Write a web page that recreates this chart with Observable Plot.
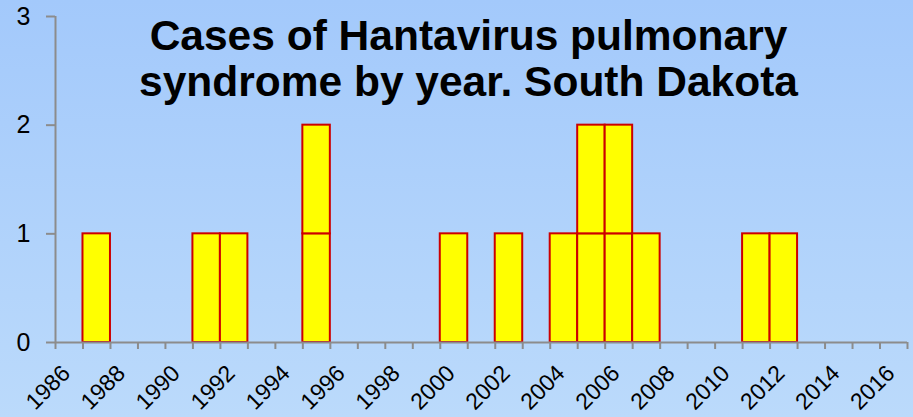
<!DOCTYPE html>
<html>
<head>
<meta charset="utf-8">
<script src="https://cdn.jsdelivr.net/npm/d3@7"></script>
<script src="https://cdn.jsdelivr.net/npm/@observablehq/plot@0.6"></script>
<style>
  html, body { margin: 0; padding: 0; background: #b0d2fb; }
  #chart svg { display: block; }
</style>
</head>
<body>
<div id="chart"></div>
<script>
// Data
const years = [1987, 1991, 1992, 1995, 2000, 2002, 2004, 2005, 2006, 2007, 2011, 2012];
const cases = [1, 1, 1, 2, 1, 1, 1, 2, 2, 1, 1, 1];
const firstYear = 1986;
const lastYear = 2016;
const xLabelYears = [1986, 1988, 1990, 1992, 1994, 1996, 1998, 2000, 2002, 2004, 2006, 2008, 2010, 2012, 2014, 2016];
const yTicks = [0, 1, 2, 3];
const titleLines = ["Cases of Hantavirus pulmonary", "syndrome by year. South Dakota"];

// one box per case, stacked
const boxes = years.flatMap((yr, i) =>
  d3.range(cases[i]).map(k => ({year: yr, lo: k, hi: k + 1}))
);
const tickYears = d3.range(firstYear, lastYear + 2);

const chart = Plot.plot({
  width: 913,
  height: 417,
  marginLeft: 55,
  marginRight: 6,
  marginTop: 16,
  marginBottom: 75,
  style: {
    background: "linear-gradient(#a3c9fb, #bbdafb)",
    fontFamily: "'Liberation Sans', Arial, sans-serif",
    color: "black",
    overflow: "visible"
  },
  x: {domain: [firstYear, lastYear + 1], axis: null},
  y: {domain: [0, 3], axis: null},
  marks: [
    Plot.rectY(boxes, {
      x1: "year", x2: d => d.year + 1, y1: "lo", y2: "hi",
      fill: "#ffff00", stroke: "#cc0000", strokeWidth: 2
    }),
    Plot.ruleY([0], {stroke: "#8c8c8c", strokeWidth: 2}),
    Plot.ruleX([firstYear], {stroke: "#8c8c8c", strokeWidth: 2}),
    Plot.axisX({
      ticks: tickYears, tickSize: 7, tickFormat: () => "",
      stroke: "#8c8c8c", strokeWidth: 2, label: null
    }),
    Plot.axisX({
      ticks: xLabelYears.map(y => y + 0.5), tickSize: 0, tickPadding: 27,
      tickRotate: -45, tickFormat: d => String(d - 0.5),
      fontSize: 23, fill: "black", dx: -3, label: null
    }),
    Plot.axisY({
      ticks: yTicks, tickSize: 9, tickPadding: 16, tickFormat: d => String(d),
      fontSize: 25, stroke: "#8c8c8c", strokeWidth: 2, fill: "black", label: null
    }),
    Plot.text([titleLines.join("\n")], {
      frameAnchor: "top", lineAnchor: "top", dx: -13, dy: 0,
      fontSize: 42.5, fontWeight: "bold", lineHeight: 1.1, fill: "black"
    })
  ]
});
document.getElementById("chart").appendChild(chart);
// pin tick label sizes on each text element and force a layout pass
d3.select(chart).selectAll('g[aria-label="x-axis tick label"] text').style("font-size", "23px");
d3.select(chart).selectAll('g[aria-label="y-axis tick label"] text').style("font-size", "25px");
chart.querySelectorAll("text").forEach(t => t.getBoundingClientRect());
</script>
</body>
</html>
